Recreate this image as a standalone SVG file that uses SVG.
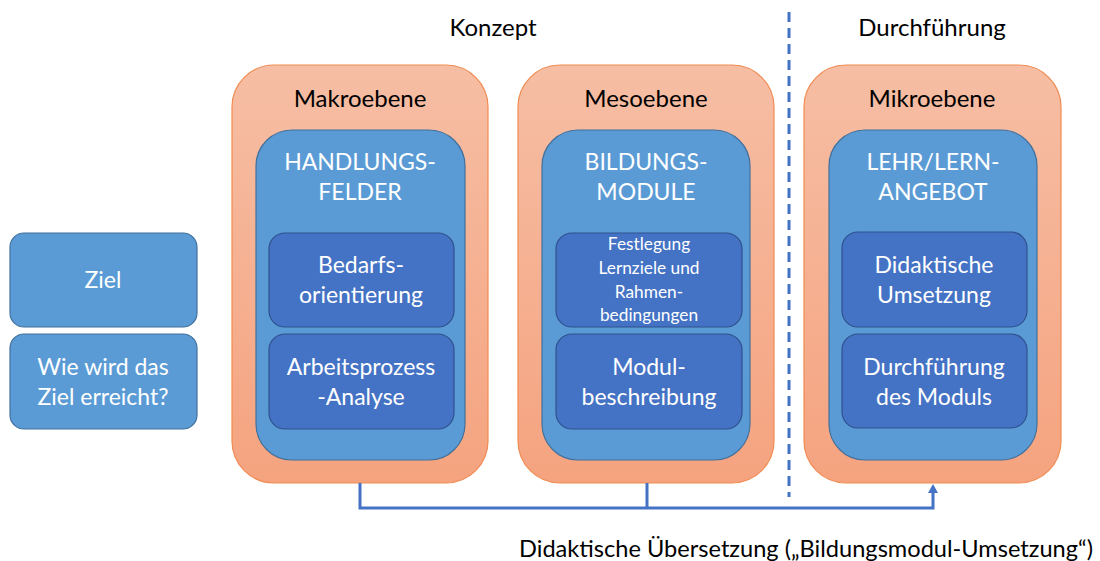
<svg xmlns="http://www.w3.org/2000/svg" width="1100" height="561" viewBox="0 0 1100 561">
<defs>
<linearGradient id="og" x1="0" y1="0" x2="0" y2="1">
<stop offset="0" stop-color="#F6BEA4"/>
<stop offset="1" stop-color="#F5A37F"/>
</linearGradient>
<style>
.outer{fill:url(#og);stroke:#F08B52;stroke-width:1.2}
.mid{fill:#5B9BD5;stroke:#41719C;stroke-width:1.2}
.inner{fill:#4472C4;stroke:#2F528F;stroke-width:1.2}
.side{fill:#5B9BD5;stroke:#41719C;stroke-width:1.2}
text{font-family:Lato,"Liberation Sans",sans-serif;text-anchor:middle}
.h{font-size:24px;fill:#000}
.w{font-size:23px;fill:#fff}
.s{font-size:17.3px;fill:#fff}
.conn{fill:none;stroke:#4472C4;stroke-width:3}
</style>
</defs>
<text class="h" x="493" y="36">Konzept</text>
<text class="h" x="932" y="36">Durchführung</text>
<g id="ziel">
<rect class="side" x="10" y="233" width="187" height="94" rx="14"/>
<text class="w" x="103" y="288">Ziel</text>
</g>
<g id="wie">
<rect class="side" x="10" y="334" width="187" height="95" rx="14"/>
<text class="w" x="103" y="375">Wie wird das</text>
<text class="w" x="103" y="405">Ziel erreicht?</text>
</g>
<g id="makro">
<rect class="outer" x="232" y="65" width="256" height="418" rx="42"/>
<text class="h" x="360" y="107">Makroebene</text>
<rect class="mid" x="256" y="130" width="209" height="330" rx="36"/>
<text class="w" x="360" y="170">HANDLUNGS-</text>
<text class="w" x="360" y="200">FELDER</text>
<rect class="inner" x="269" y="233" width="185" height="94" rx="16"/>
<text class="w" x="361" y="273">Bedarfs-</text>
<text class="w" x="361" y="303">orientierung</text>
<rect class="inner" x="269" y="334" width="185" height="95" rx="16"/>
<text class="w" x="361" y="375">Arbeitsprozess</text>
<text class="w" x="361" y="405">-Analyse</text>
</g>
<g id="meso">
<rect class="outer" x="518" y="65" width="256" height="418" rx="42"/>
<text class="h" x="646" y="107">Mesoebene</text>
<rect class="mid" x="542" y="130" width="208" height="330" rx="36"/>
<text class="w" x="646" y="170">BILDUNGS-</text>
<text class="w" x="646" y="200">MODULE</text>
<rect class="inner" x="556" y="233" width="186" height="94" rx="16"/>
<text class="s" x="649" y="250">Festlegung</text>
<text class="s" x="649" y="274">Lernziele und</text>
<text class="s" x="649" y="298">Rahmen-</text>
<text class="s" x="649" y="321">bedingungen</text>
<rect class="inner" x="556" y="334" width="186" height="95" rx="16"/>
<text class="w" x="649" y="375">Modul-</text>
<text class="w" x="649" y="405">beschreibung</text>
</g>
<g id="mikro">
<rect class="outer" x="804" y="65" width="257" height="418" rx="42"/>
<text class="h" x="932" y="107">Mikroebene</text>
<rect class="mid" x="829" y="130" width="208" height="330" rx="36"/>
<text class="w" x="933" y="170">LEHR/LERN-</text>
<text class="w" x="933" y="200">ANGEBOT</text>
<rect class="inner" x="842" y="232" width="185" height="95" rx="16"/>
<text class="w" x="934" y="273">Didaktische</text>
<text class="w" x="934" y="303">Umsetzung</text>
<rect class="inner" x="842" y="334" width="185" height="94" rx="16"/>
<text class="w" x="934" y="375">Durchführung</text>
<text class="w" x="934" y="405">des Moduls</text>
</g>
<g id="connectors">
<line x1="789" y1="12" x2="789" y2="497" stroke="#4472C4" stroke-width="3" stroke-dasharray="10,6"/>
<path class="conn" d="M360,483 V508 H933 V492"/>
<path class="conn" d="M647,483 V508"/>
<path d="M928,493 L933,484 L938,493 Z" fill="#4472C4"/>
</g>
<text class="h" x="806" y="557" style="font-size:23.6px">Didaktische Übersetzung („Bildungsmodul-Umsetzung“)</text>
</svg>
